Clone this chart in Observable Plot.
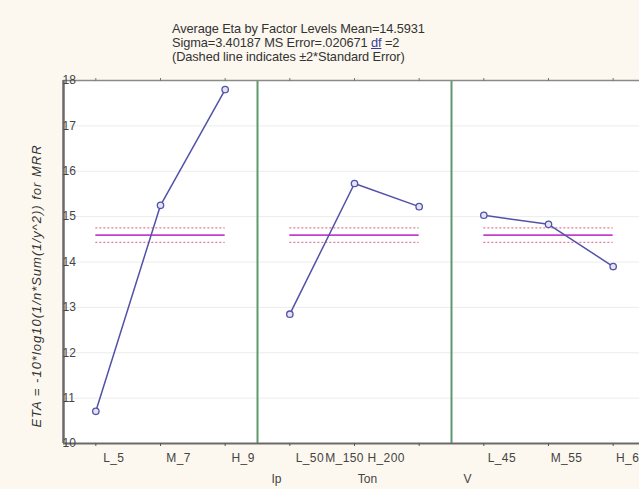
<!DOCTYPE html>
<html>
<head>
<meta charset="utf-8">
<script src="https://cdn.jsdelivr.net/npm/d3@7"></script>
<script src="https://cdn.jsdelivr.net/npm/@observablehq/plot@0.6"></script>
<style>
  html, body { margin: 0; padding: 0; background: #fcf8ef; }
  #wrap { position: relative; width: 639px; height: 489px; overflow: hidden; }
  #title { position: absolute; left: 172px; top: 22px; font: 12.8px "Liberation Sans", Arial, sans-serif; color: #333; line-height: 14px; white-space: nowrap; letter-spacing: -0.1px; }
  #title u { color: #3a3aa0; }
  .ylab text { letter-spacing: 1px; }
  .lvl text { letter-spacing: 0.4px; }
</style>
</head>
<body>
<div id="wrap">
  <div id="chart"></div>
  <div id="title">Average Eta by Factor Levels Mean=14.5931<br>Sigma=3.40187 MS Error=.020671 <u>df</u> =2<br>(Dashed line indicates ±2*Standard Error)</div>
</div>
<script>
const factors = ["Ip", "Ton", "V"];
const levelLabels = [["L_5", "M_7", "H_9"], ["L_50", "M_150", "H_200"], ["L_45", "M_55", "H_65"]];
const etaMeans = [[10.71, 15.25, 17.8], [12.85, 15.73, 15.22], [15.03, 14.83, 13.9]];
const grandMean = 14.5931;
const twoStdErr = 0.16;
const yTicks = [10, 11, 12, 13, 14, 15, 16, 17, 18];
const yLabel = "ETA = -10*log10(1/n*Sum(1/y^2)) for MRR";

const rows = factors.flatMap((f, fi) => levelLabels[fi].map((lab, li) => ({
  factor: f, level: lab, pos: fi * 3 + li + 0.5, eta: etaMeans[fi][li]
})));
const segs = factors.map((f, fi) => ({factor: f, x1: fi * 3 + 0.5, x2: fi * 3 + 2.5}));
const dividers = factors.slice(1).map((f, i) => (i + 1) * 3);
const lineColor = "#5252a8";

const tonRows = rows.filter(d => d.factor === "Ton");
const otherRows = rows.filter(d => d.factor !== "Ton");

const chart = Plot.plot({
  width: 639, height: 489,
  marginLeft: 63, marginTop: 80, marginBottom: 46, marginRight: 0,
  x: {domain: [0, 9], range: [63, 645], axis: null},
  y: {domain: [10, 18], axis: null},
  style: {background: "#fcf8ef", fontFamily: "'Liberation Sans', Arial, sans-serif", fontSize: "12px", overflow: "hidden"},
  marks: [
    Plot.frame({fill: "white", stroke: null}),
    Plot.ruleY(yTicks, {stroke: "#ececec"}),
    // mean and ±2SE lines
    Plot.ruleY(segs, {x1: "x1", x2: "x2", y: () => grandMean + twoStdErr, stroke: "#e07a9c", strokeWidth: 1.2, strokeDasharray: "2,2"}),
    Plot.ruleY(segs, {x1: "x1", x2: "x2", y: () => grandMean - twoStdErr, stroke: "#e07a9c", strokeWidth: 1.2, strokeDasharray: "2,2"}),
    Plot.ruleY(segs, {x1: "x1", x2: "x2", y: () => grandMean, stroke: "#c23fd0", strokeWidth: 1.6}),
    // panel dividers
    Plot.ruleX(dividers, {y1: 10, y2: 18, stroke: "#5f9a6c", strokeWidth: 2}),
    // axes lines
    Plot.ruleY([10], {stroke: "#6a6a6a", strokeWidth: 2}),
    Plot.ruleY([18], {stroke: "#8a8a8a", strokeWidth: 1.5}),
    Plot.ruleX([0], {stroke: "#6a6a6a", strokeWidth: 2.5}),
    Plot.axisX(rows.map(d => d.pos), {anchor: "bottom", tickSize: 3, tickFormat: () => "", stroke: "#555"}),
    Plot.axisX(rows.map(d => d.pos), {anchor: "top", tickSize: 3, tickFormat: () => "", stroke: "#777"}),
    // data
    Plot.line(rows, {x: "pos", y: "eta", z: "factor", stroke: lineColor, strokeWidth: 1.5}),
    Plot.dot(rows, {x: "pos", y: "eta", r: 3.2, stroke: lineColor, fill: "#e4e4f6", strokeWidth: 1.3}),
    // tick labels
    Plot.text(otherRows, {x: "pos", y: () => 10, text: "level", dx: 18, dy: 15, fill: "#444", className: "lvl"}),
    Plot.text(tonRows.slice(0, 1), {x: "pos", y: () => 10, text: "level", dx: 20, dy: 15, fill: "#444", className: "lvl"}),
    Plot.text(tonRows.slice(1, 2), {x: "pos", y: () => 10, text: "level", dx: -10, dy: 15, fill: "#444", className: "lvl"}),
    Plot.text(tonRows.slice(2, 3), {x: "pos", y: () => 10, text: "level", dx: -33, dy: 15, fill: "#444", className: "lvl"}),
    Plot.text(yTicks, {frameAnchor: "left", y: d => d, text: d => String(d), textAnchor: "start", dx: -1, fill: "#444"}),
    // factor names
    Plot.text([factors[0]], {frameAnchor: "bottom", dx: -75, dy: 39, fill: "#444"}),
    Plot.text([factors[1]], {frameAnchor: "bottom", dx: 16, dy: 39, fill: "#444"}),
    Plot.text([factors[2]], {frameAnchor: "bottom", dx: 116, dy: 39, fill: "#444"}),
    // y label
    Plot.text([yLabel], {frameAnchor: "left", rotate: -90, textAnchor: "middle", dx: -27, dy: 24, fontSize: 13, fontStyle: "italic", fill: "#333", className: "ylab"})
  ]
});
document.getElementById("chart").appendChild(chart);
</script>
</body>
</html>
